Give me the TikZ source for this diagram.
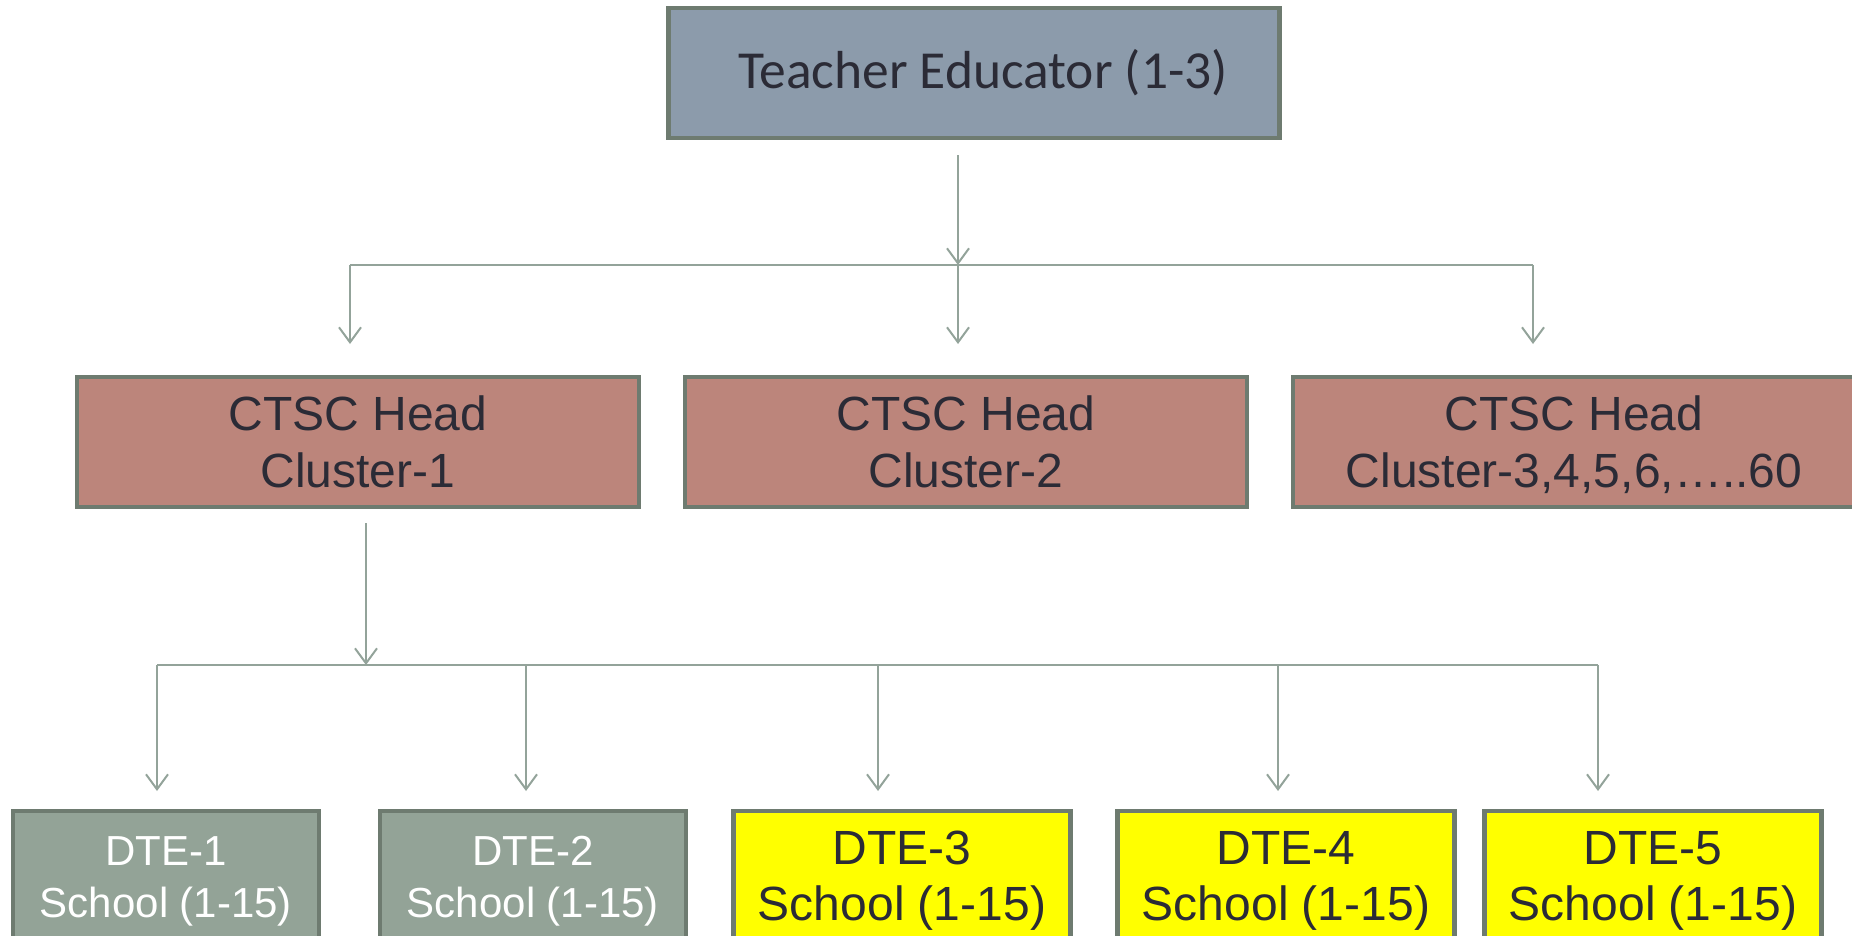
\documentclass[tikz,border=0pt]{standalone}
\usepackage{fontspec}
\setmainfont{Liberation Sans}
\newfontfamily\calfont{Carlito}
\usetikzlibrary{shapes,arrows.meta}
\definecolor{edgec}{HTML}{6E7B70}
\definecolor{linkc}{HTML}{93A39A}
\definecolor{inkc}{HTML}{2B2B36}
\definecolor{topc}{HTML}{8C9BAB}
\definecolor{midc}{HTML}{BC857B}
\definecolor{dtec}{HTML}{93A397}
\definecolor{yelc}{HTML}{FFFF00}
\tikzstyle{block} = [draw=edgec, line width=4.5pt, rectangle, align=center, text=inkc]
\tikzstyle{headbox} = [block, fill=topc, minimum width=611pt, minimum height=130pt,
    font=\calfont\fontsize{53.5}{60}\selectfont]
\tikzstyle{ctscbox} = [block, fill=midc, minimum width=562pt, minimum height=130pt,
    font=\fontsize{48}{57}\selectfont]
\tikzstyle{greybox} = [block, fill=dtec, text=white, minimum width=306pt, minimum height=140pt,
    font=\fontsize{42}{52}\selectfont]
\tikzstyle{yellowbox} = [block, fill=yelc, minimum width=337pt, minimum height=140pt,
    font=\fontsize{48}{56}\selectfont]
\tikzstyle{link} = [draw=linkc, line width=2pt, -{Straight Barb[length=15pt,width=22pt]}]
\tikzstyle{bus} = [draw=linkc, line width=2pt]

\begin{document}
\begin{tikzpicture}[x=1pt, y=-1pt]
\useasboundingbox (0,0) rectangle (1852,935);

\node [headbox] (te) at (974,73) {\hspace*{18pt}Teacher Educator (1-3)};

\node [ctscbox] (ctsc1) at (358,442) {CTSC Head\\Cluster-1};
\node [ctscbox, right of=ctsc1, node distance=608pt] (ctsc2) {CTSC Head\\Cluster-2};
\node [ctscbox, right of=ctsc2, node distance=608pt] (ctsc3) {CTSC Head\\\raisebox{0pt}[\height][0pt]{Cluster-3,4,5,6,…..60}};

\node [greybox] (dte1) at (166,881) {DTE-1\\School (1-15)};
\node [greybox, right of=dte1, node distance=367pt] (dte2) {DTE-2\\School (1-15)};
\node [yellowbox] (dte3) at (902,881) {DTE-3\\School (1-15)};
\node [yellowbox, right of=dte3, node distance=384pt] (dte4) {DTE-4\\School (1-15)};
\node [yellowbox, right of=dte4, node distance=367pt] (dte5) {DTE-5\\School (1-15)};

\coordinate (hub1) at (958,265);
\coordinate (t1) at (350,344);
\coordinate (t2) at (958,344);
\coordinate (t3) at (1533,344);
\draw [link] ([xshift=-16pt, yshift=-15pt]te.south) -- (hub1);
\draw [bus] (t1 |- hub1) -- (t3 |- hub1);
\foreach \n in {1,2,3} \draw [link] (t\n |- hub1) -- (t\n);

\coordinate (hub2) at (366,665);
\coordinate (s1) at (157,791);
\coordinate (s2) at (526,791);
\coordinate (s3) at (878,791);
\coordinate (s4) at (1278,791);
\coordinate (s5) at (1598,791);
\draw [link] ([xshift=8pt, yshift=-14pt]ctsc1.south) -- (hub2);
\draw [bus] (s1 |- hub2) -- (s5 |- hub2);
\foreach \n in {1,...,5} \draw [link] (s\n |- hub2) -- (s\n);

\end{tikzpicture}
\end{document}
